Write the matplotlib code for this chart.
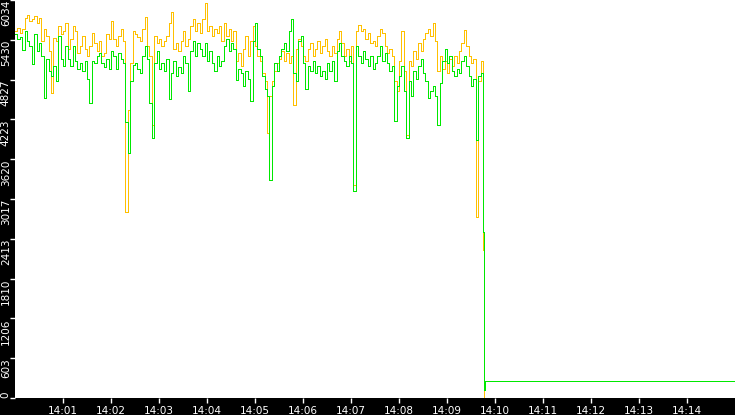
import numpy as np
import matplotlib
matplotlib.use("Agg")
import matplotlib.pyplot as plt

# two rate series, one sample every 3 s starting 14:00:00
sample_sec = 3

orange = [5566, 5612, 5536, 5597, 5763, 5808, 5717, 5747, 5793, 5687,
          5763, 5415, 5597, 5491, 5265, 4631, 5461, 5415, 5642, 5521,
          5566, 5687, 5295, 5446, 5642, 5566, 5234, 5340, 5491, 5295,
          5189, 5340, 5536, 5385, 5265, 5415, 5189, 5234, 5521, 5446,
          5717, 5446, 5340, 5491, 5597, 5415, 2821, 4360, 5084, 5566,
          5521, 5476, 5415, 5597, 5778, 5340, 5189, 4133, 5491, 5385,
          5446, 5340, 5415, 5491, 5687, 5853, 5295, 5385, 5265, 5415,
          5566, 5340, 5446, 5642, 5747, 5566, 5687, 5536, 5747, 5989,
          5566, 5642, 5491, 5597, 5536, 5642, 5415, 5687, 5491, 5597,
          5415, 5566, 5114, 5234, 5038, 5295, 5491, 5189, 5415, 5642,
          5340, 5189, 5114, 4933, 4812, 4013, 4586, 4812, 4963, 5084,
          5144, 5265, 5114, 5234, 5084, 5189, 4435, 5295, 5446, 5340,
          5189, 5114, 5295, 5385, 5189, 5295, 5415, 5234, 5340, 5446,
          5265, 5189, 5340, 5234, 5446, 5566, 5385, 5189, 5295, 5114,
          5340, 3228, 5566, 5657, 5566, 5597, 5446, 5536, 5385, 5415,
          5340, 5491, 5597, 5536, 5340, 5234, 5295, 5189, 4812, 4661,
          5114, 5566, 4963, 3983, 5114, 5038, 5265, 5144, 5385, 5265,
          5446, 5536, 5597, 5491, 5687, 5415, 4963, 5189, 4993, 5114,
          4933, 5144, 5038, 5189, 5084, 5265, 5385, 5582, 5340, 5189,
          5084, 5144, 2746, 4812, 5114]

green = [5521, 5446, 5476, 5280, 5566, 5415, 5340, 5069, 5521, 5265,
         5385, 5189, 4541, 5144, 4963, 4888, 5038, 4812, 5491, 5144,
         5038, 5340, 5144, 5038, 5340, 5114, 4993, 5084, 4963, 5114,
         4842, 4465, 5114, 5084, 5189, 5234, 5084, 5023, 5144, 4993,
         5265, 5189, 4993, 5234, 5144, 5084, 4179, 3711, 4812, 5054,
         5084, 4993, 4933, 5189, 5340, 5144, 4465, 3937, 5084, 5265,
         4993, 5084, 4963, 5144, 4526, 4933, 5114, 4888, 5023, 4933,
         5189, 5084, 4661, 5265, 5415, 5189, 5385, 5295, 5189, 5385,
         5114, 5265, 5084, 4963, 5189, 5038, 5114, 5340, 5446, 5265,
         5385, 5295, 4827, 4993, 4933, 4737, 4963, 4842, 4510, 5415,
         5687, 5295, 5189, 4888, 4692, 4586, 3304, 4737, 5084, 4963,
         5189, 5295, 5385, 5265, 5566, 5747, 4933, 4812, 5415, 5491,
         5084, 4692, 5038, 4963, 5114, 4933, 5038, 4888, 4963, 4842,
         5084, 4963, 5114, 4812, 5265, 5385, 5189, 5114, 5038, 5189,
         5084, 3138, 5340, 5189, 5084, 5265, 5144, 5038, 5189, 4993,
         5084, 5189, 5340, 5114, 5234, 5084, 4963, 5038, 4194, 4737,
         4888, 5038, 4661, 3937, 4812, 4586, 4963, 4842, 5038, 5144,
         4933, 4812, 4541, 4661, 4737, 4586, 4133, 4782, 5114, 5295,
         5084, 5189, 4963, 4888, 4993, 4933, 5114, 5189, 5038, 4888,
         4737, 4842, 3907, 4888, 4933]

# the feed collapses just before 14:10
orange_tail_t = [585, 586]
orange_tail = [2248, 0]
green_tail_t = [585, 586, 587.5, 900]
green_tail = [2519, 125, 252, 252]

y_max = 6034
y_labels = ["0", "603", "1206", "1810", "2413", "3017", "3620",
            "4223", "4827", "5430", "6034"]
x_tick_sec = [60, 120, 180, 240, 300, 360, 420, 480, 540, 600, 660, 720, 780, 840]
x_labels = ["14:01", "14:02", "14:03", "14:04", "14:05", "14:06", "14:07",
            "14:08", "14:09", "14:10", "14:11", "14:12", "14:13", "14:14"]

t = np.arange(len(orange)) * sample_sec
t_or = np.concatenate([t, orange_tail_t])
v_or = np.concatenate([orange, orange_tail])
t_gr = np.concatenate([t, green_tail_t])
v_gr = np.concatenate([green, green_tail])

fig = plt.figure(figsize=(7.35, 4.15), dpi=100, facecolor="black")
ax = fig.add_axes([15 / 735, 17 / 415, 720 / 735, 398 / 415])
ax.set_facecolor("white")

# crisp 1 px lines like the original monitor
ax.step(t_or, v_or, where="post", color="#ffc000", lw=0.72, antialiased=False)
ax.step(t_gr, v_gr, where="post", color="#00e800", lw=0.72, antialiased=False)

ax.set_xlim(0, 900)
ax.set_ylim(0, y_max)
for s in ax.spines.values():
    s.set_visible(False)

ax.set_xticks(x_tick_sec, x_labels)
ax.set_yticks(np.linspace(0, y_max, len(y_labels)), y_labels)
ax.tick_params(colors="white", length=3.6, width=1.0, labelsize=7.5, direction="out")
ax.tick_params(axis="x", pad=2)
ax.tick_params(axis="y", pad=3.0)

# y labels run upward and hang under their tick, except the zero one
for i, lab in enumerate(ax.get_yticklabels()):
    lab.set_rotation(90)
    lab.set_rotation_mode("anchor")
    lab.set_va("center")
    lab.set_ha("left" if i == 0 else "right")

fig.savefig("out.png", dpi=100, facecolor="black")
